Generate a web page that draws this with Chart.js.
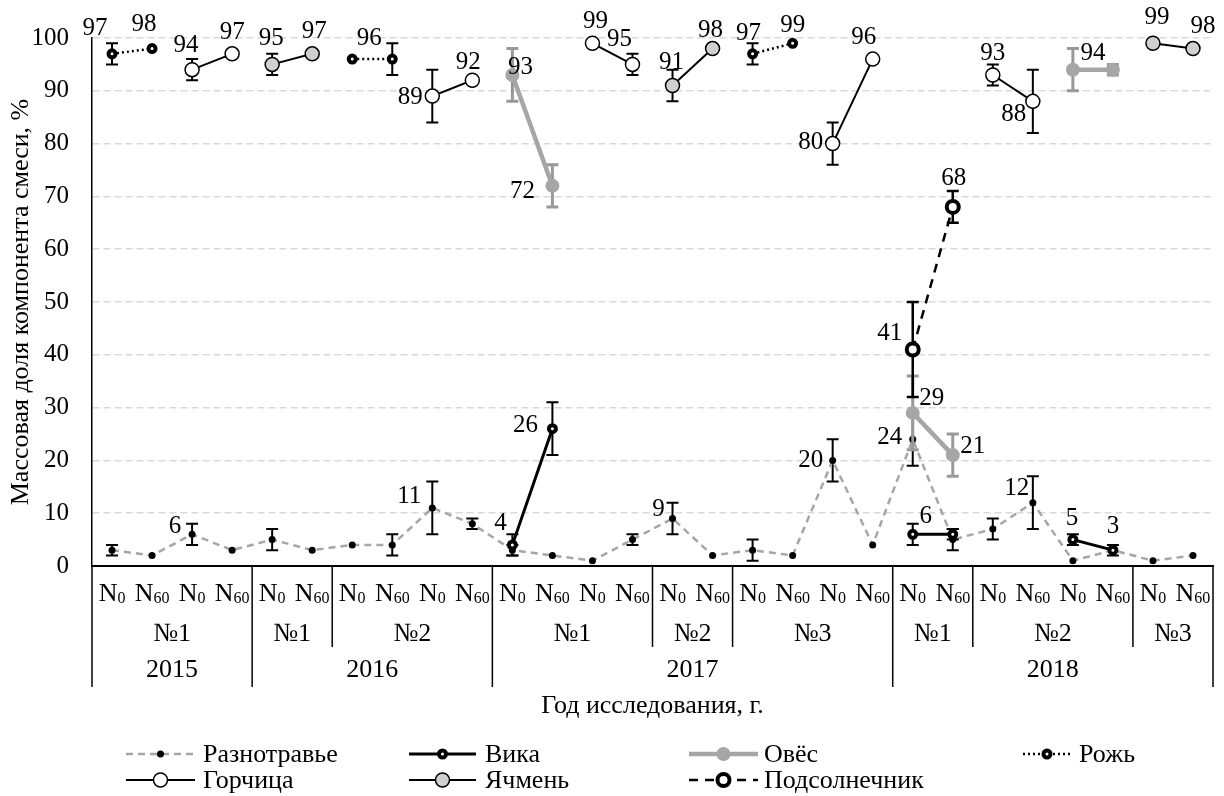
<!DOCTYPE html>
<html><head><meta charset="utf-8">
<script src="https://cdn.jsdelivr.net/npm/chart.js@4.4.1/dist/chart.umd.min.js"></script>
<style>html,body{margin:0;padding:0;background:#fff}#wrap{width:1224px;height:796px;position:relative}</style>
</head><body><div id="wrap"><canvas id="c"></canvas></div>
<script>
// ---------- DATA ----------
const categories = ['N₀','N₆₀','N₀','N₆₀','N₀','N₆₀','N₀','N₆₀','N₀','N₆₀','N₀','N₆₀','N₀','N₆₀',
                    'N₀','N₆₀','N₀','N₆₀','N₀','N₆₀','N₀','N₆₀','N₀','N₆₀','N₀','N₆₀','N₀','N₆₀'];
const subgroupLabels = ['№1','№1','№2','№1','№2','№3','№1','№2','№3'];
const subgroupSpans  = [4,2,4,4,2,4,2,4,2];
const yearLabels = ['2015','2016','2017','2018'];
const yearSpans  = [4,6,10,8];
const yTicks = [0,10,20,30,40,50,60,70,80,90,100];

const _ = null;
const raznotravye    = [3,2,6,3,5,3,4,4,11,8,3,2,1,5,9,2,3,2,20,4,24,5,7,12,1,3,1,2];
const raznotravyeErr = [1,0,2,0,2,0,0,2,5,1,1,0,0,1,3,0,2,0,4,0,5,2,2,5,0,0,0,0];
const vika     = [_,_,_,_,_,_,_,_,_,_,4,26,_,_,_,_,_,_,_,_,6,6,_,_,5,3,_,_];
const vikaErr  = [_,_,_,_,_,_,_,_,_,_,2,5,_,_,_,_,_,_,_,_,2,1,_,_,1,1,_,_];
const oves     = [_,_,_,_,_,_,_,_,_,_,93,72,_,_,_,_,_,_,_,_,29,21,_,_,94,94,_,_];
const ovesErr  = [_,_,_,_,_,_,_,_,_,_,5,4,_,_,_,_,_,_,_,_,7,4,_,_,4,1,_,_];
const rozh     = [97,98,_,_,_,_,96,96,_,_,_,_,_,_,_,_,97,99,_,_,_,_,_,_,_,_,_,_];
const rozhErr  = [2,0,_,_,_,_,0,3,_,_,_,_,_,_,_,_,2,0,_,_,_,_,_,_,_,_,_,_];
const gorchitsa    = [_,_,94,97,_,_,_,_,89,92,_,_,99,95,_,_,_,_,80,96,_,_,93,88,_,_,_,_];
const gorchitsaErr = [_,_,2,0,_,_,_,_,5,0,_,_,0,2,_,_,_,_,4,0,_,_,2,6,_,_,_,_];
const yachmen    = [_,_,_,_,95,97,_,_,_,_,_,_,_,_,91,98,_,_,_,_,_,_,_,_,_,_,99,98];
const yachmenErr = [_,_,_,_,2,0,_,_,_,_,_,_,_,_,3,0,_,_,_,_,_,_,_,_,_,_,0,0];
const podsolnechnik    = [_,_,_,_,_,_,_,_,_,_,_,_,_,_,_,_,_,_,_,_,41,68,_,_,_,_,_,_];
const podsolnechnikErr = [_,_,_,_,_,_,_,_,_,_,_,_,_,_,_,_,_,_,_,_,9,3,_,_,_,_,_,_];

// ---------- LABEL PLACEMENT (offsets of label centre from point, px) ----------
const labelOffsets = {
  'Разнотравье': {2:[-17,-8],8:[-23,-11],14:[-14,-9],18:[-22,0],20:[-23,-2],23:[-16,-14]},
  'Вика': {10:[-12,-21],11:[-27,-3],20:[13,-18],24:[-1,-21],25:[0,-24]},
  'Овёс': {10:[8,-8],11:[-30,6],20:[19,-14],21:[20,-9],24:[20,-16]},
  'Рожь': {0:[-17,-25],1:[-8,-24],7:[-23,-21],16:[-4,-20],17:[0,-18]},
  'Горчица': {2:[-6,-24],3:[0,-21],8:[-22,1],9:[-4,-18],12:[3,-22],13:[-13,-25],18:[-22,-1],19:[-9,-22],22:[0,-22],23:[-19,13]},
  'Ячмень': {4:[-1,-26],5:[2,-22],14:[-1,-23],15:[-2,-18],26:[4,-26],27:[10,-22]},
  'Подсолнечник': {20:[-23,-16],21:[1,-29]}
};

const FONT = "'Liberation Serif','Times New Roman',serif";

const seriesDefs = [
  {label:'Разнотравье', data:raznotravye, err:raznotravyeErr, order:7,
   line:{color:'#A6A6A6', width:2.5, dash:[7,5]}, pt:{r:3.5, fill:'#000', stroke:'#000', bw:0},
   errColor:'#000', errWidth:2},
  {label:'Вика', data:vika, err:vikaErr, order:5,
   line:{color:'#000', width:3, dash:[]}, pt:{r:3.5, fill:'#fff', stroke:'#000', bw:4},
   errColor:'#000', errWidth:2},
  {label:'Овёс', data:oves, err:ovesErr, order:6,
   line:{color:'#A6A6A6', width:4.5, dash:[]}, pt:{r:7, fill:'#A6A6A6', stroke:'#A6A6A6', bw:0},
   errColor:'#999999', errWidth:3},
  {label:'Рожь', data:rozh, err:rozhErr, order:1,
   line:{color:'#000', width:2.5, dash:[2,3]}, pt:{r:3.5, fill:'#fff', stroke:'#000', bw:4},
   errColor:'#000', errWidth:2},
  {label:'Горчица', data:gorchitsa, err:gorchitsaErr, order:3,
   line:{color:'#000', width:2, dash:[]}, pt:{r:7, fill:'#fff', stroke:'#000', bw:1.5},
   errColor:'#000', errWidth:2},
  {label:'Ячмень', data:yachmen, err:yachmenErr, order:2,
   line:{color:'#000', width:2, dash:[]}, pt:{r:7, fill:'#D0D0D0', stroke:'#000', bw:1.5},
   errColor:'#000', errWidth:2},
  {label:'Подсолнечник', data:podsolnechnik, err:podsolnechnikErr, order:4,
   line:{color:'#000', width:2.5, dash:[9,7]}, pt:{r:6, fill:'#fff', stroke:'#000', bw:4},
   errColor:'#000', errWidth:2.5}
];

const datasets = seriesDefs.map(s => ({
  label: s.label, data: s.data, order: s.order,
  borderColor: s.line.color, borderWidth: s.line.width, borderDash: s.line.dash,
  borderCapStyle: 'butt', backgroundColor: s.pt.fill,
  pointRadius: s.pt.r, pointBackgroundColor: s.pt.fill, pointBorderColor: s.pt.stroke,
  pointBorderWidth: s.pt.bw, pointHoverRadius: s.pt.r, spanGaps: false, tension: 0, clip: false,
  fill: false
}));

function drawMarker(ctx, s, x, y) {
  ctx.save();
  ctx.setLineDash([]);
  ctx.beginPath();
  ctx.arc(x, y, s.pt.r, 0, Math.PI*2);
  ctx.fillStyle = s.pt.fill; ctx.fill();
  if (s.pt.bw > 0) { ctx.lineWidth = s.pt.bw; ctx.strokeStyle = s.pt.stroke; ctx.stroke(); }
  ctx.restore();
}

const errorBarPlugin = {
  id: 'errorBars',
  beforeDatasetDraw(chart, args) {
    const s = seriesDefs[args.index];
    const {ctx, scales:{x, y}} = chart;
    ctx.save();
    ctx.strokeStyle = s.errColor; ctx.lineWidth = s.errWidth; ctx.setLineDash([]);
    s.data.forEach((v, i) => {
      const e = s.err[i];
      if (v == null || !e) return;
      const px = x.getPixelForValue(i);
      const y1 = y.getPixelForValue(v + e), y2 = y.getPixelForValue(v - e);
      ctx.beginPath();
      ctx.moveTo(px, y1); ctx.lineTo(px, y2);
      ctx.moveTo(px-6, y1); ctx.lineTo(px+6, y1);
      ctx.moveTo(px-6, y2); ctx.lineTo(px+6, y2);
      ctx.stroke();
    });
    ctx.restore();
  }
};

const labelPlugin = {
  id: 'valueLabels',
  afterDatasetsDraw(chart) {
    const {ctx, scales:{x, y}} = chart;
    ctx.save();
    ctx.font = "25px " + FONT; ctx.fillStyle = '#000';
    ctx.textAlign = 'center'; ctx.textBaseline = 'middle';
    seriesDefs.forEach(s => {
      const offs = labelOffsets[s.label] || {};
      Object.keys(offs).forEach(k => {
        const i = +k, v = s.data[i];
        if (v == null) return;
        ctx.fillText(String(v), x.getPixelForValue(i) + offs[k][0], y.getPixelForValue(v) + offs[k][1]);
      });
    });
    ctx.restore();
  }
};

const SUBS = {'₀':'0','₁':'1','₂':'2','₃':'3','₄':'4','₅':'5','₆':'6','₇':'7','₈':'8','₉':'9'};

const tablePlugin = {
  id: 'axisTable',
  afterDraw(chart) {
    const {ctx, chartArea, scales:{x}} = chart;
    const cw = x.getPixelForValue(1) - x.getPixelForValue(0);
    const bx = idx => x.getPixelForValue(0) - cw/2 + idx*cw;
    const top = chartArea.bottom;
    ctx.save();
    ctx.strokeStyle = '#000'; ctx.lineWidth = 1.5; ctx.setLineDash([]);
    let acc = 0;
    const yearBounds = [0];
    yearSpans.forEach(s => { acc += s; yearBounds.push(acc); });
    yearBounds.forEach(b => { ctx.beginPath(); ctx.moveTo(bx(b), top); ctx.lineTo(bx(b), top+121); ctx.stroke(); });
    acc = 0;
    const subBounds = [];
    subgroupSpans.forEach(s => { subBounds.push(acc); acc += s; });
    subBounds.forEach(b => {
      if (yearBounds.includes(b)) return;
      ctx.beginPath(); ctx.moveTo(bx(b), top); ctx.lineTo(bx(b), top+81); ctx.stroke();
    });
    ctx.fillStyle = '#000';
    // category labels: N with subscript
    ctx.textBaseline = 'alphabetic'; ctx.textAlign = 'left';
    categories.forEach((lab, i) => {
      const base = lab.charAt(0);
      const sub = lab.slice(1).split('').map(ch => SUBS[ch] || ch).join('');
      ctx.font = "26px " + FONT; const wb = ctx.measureText(base).width;
      ctx.font = "16px " + FONT; const ws = ctx.measureText(sub).width;
      const cx = x.getPixelForValue(i);
      const x0 = cx - (wb + ws)/2;
      ctx.font = "26px " + FONT; ctx.fillText(base, x0, top + 35);
      ctx.font = "16px " + FONT; ctx.fillText(sub, x0 + wb, top + 37);
    });
    ctx.font = "26px " + FONT;
    ctx.textAlign = 'center'; ctx.textBaseline = 'middle';
    acc = 0;
    subgroupLabels.forEach((l, k) => {
      const c = (bx(acc) + bx(acc + subgroupSpans[k]))/2;
      ctx.fillText(l, c, top + 68);
      acc += subgroupSpans[k];
    });
    acc = 0;
    yearLabels.forEach((l, k) => {
      const c = (bx(acc) + bx(acc + yearSpans[k]))/2;
      ctx.fillText(l, c, top + 104);
      acc += yearSpans[k];
    });
    ctx.restore();
  }
};

const legendLayout = [
  {i:0, x0:126, x1:195, tx:203, y:754},
  {i:1, x0:409, x1:476, tx:485, y:754},
  {i:2, x0:689, x1:758, tx:764, y:754},
  {i:3, x0:1023, x1:1071, tx:1079, y:754},
  {i:4, x0:126, x1:195, tx:203, y:780},
  {i:5, x0:409, x1:476, tx:485, y:780},
  {i:6, x0:689, x1:758, tx:764, y:780}
];

const legendPlugin = {
  id: 'customLegend',
  afterDraw(chart) {
    const {ctx} = chart;
    ctx.save();
    legendLayout.forEach(L => {
      const s = seriesDefs[L.i];
      ctx.beginPath();
      ctx.strokeStyle = s.line.color; ctx.lineWidth = s.line.width;
      ctx.setLineDash(s.line.dash); ctx.lineCap = 'butt';
      ctx.moveTo(L.x0, L.y); ctx.lineTo(L.x1, L.y); ctx.stroke();
      drawMarker(ctx, s, (L.x0+L.x1)/2, L.y);
      ctx.font = "26px " + FONT; ctx.fillStyle = '#000';
      ctx.textAlign = 'left'; ctx.textBaseline = 'middle';
      ctx.fillText(s.label, L.tx, L.y + 1);
    });
    ctx.restore();
  }
};

new Chart(document.getElementById('c'), {
  type: 'line',
  data: { labels: categories, datasets },
  options: {
    responsive: true, maintainAspectRatio: false, animation: false,
    layout: { padding: { left: 0, right: 11, top: 37, bottom: 74 } },
    plugins: { legend: { display: false }, tooltip: { enabled: false } },
    scales: {
      x: {
        type: 'category', offset: true,
        grid: { display: false, drawTicks: false },
        border: { display: true, color: '#000', width: 2 },
        ticks: { display: false, autoSkip: false, maxRotation: 0, minRotation: 0 },
        title: { display: true, text: 'Год исследования, г.', color: '#000',
                 font: { family: FONT, size: 26 }, padding: { top: 0, bottom: 0 } },
        afterFit(scale) { scale.height = 156; }
      },
      y: {
        min: 0, max: 100,
        afterBuildTicks(scale) { scale.ticks = yTicks.map(v => ({ value: v })); },
        grid: { drawTicks: false, lineWidth: 1.5,
                color: c => (c.tick && c.tick.value === 0) ? 'rgba(0,0,0,0)' : '#D9D9D9' },
        border: { display: true, color: '#000', width: 1.5, dash: [7,4] },
        ticks: { padding: 23, color: '#000', font: { family: FONT, size: 25 } },
        title: { display: true, text: 'Массовая доля компонента смеси, %', color: '#000',
                 font: { family: FONT, size: 26 }, padding: { top: 6, bottom: 0 } },
        afterFit(scale) { scale.width = 92; }
      }
    }
  },
  plugins: [errorBarPlugin, labelPlugin, tablePlugin, legendPlugin]
});
</script>
</body></html>
